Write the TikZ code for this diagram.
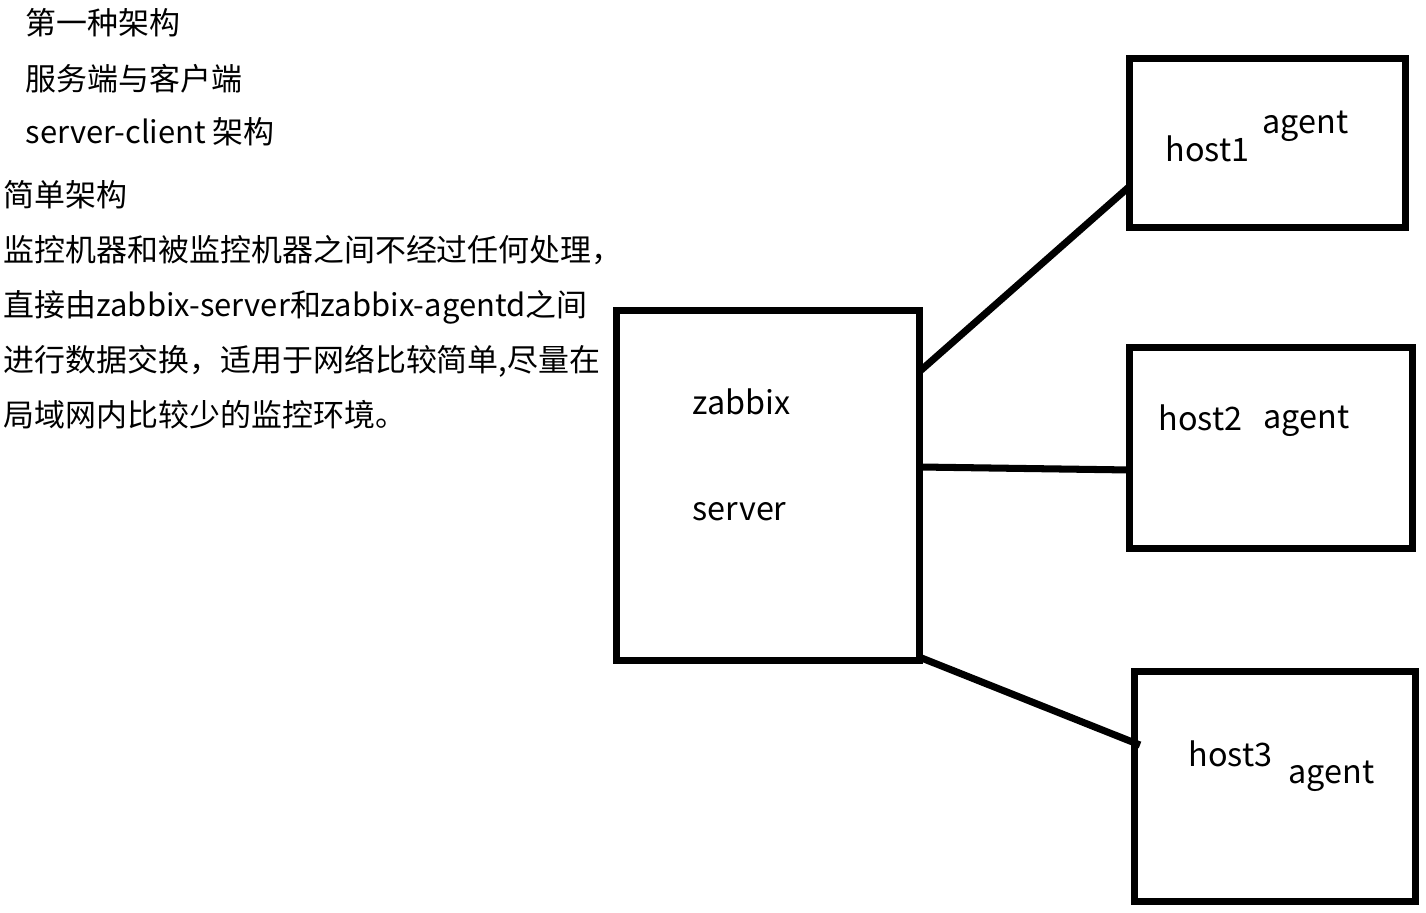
\documentclass[tikz,border=0pt]{standalone}
\usepackage{fontspec}
\setmainfont{Noto Sans CJK SC}
\begin{document}
\begin{tikzpicture}[
    x=0.01cm,
    y=-0.01cm,
    line join=miter,
    box/.style={
        draw,
        line width=2pt,
        inner sep=0pt
    },
    wire/.style={
        line width=2pt
    },
    note/.style={
        anchor=base west,
        inner sep=0pt,
        font=\fontsize{8.8}{10}\selectfont
    },
    label/.style={
        anchor=base west,
        inner sep=0pt,
        font=\fontsize{9.2}{11}\selectfont
    }
]

\useasboundingbox (0,0) rectangle (1426,913);

% -------------------------------------------------
% Пояснения слева
% -------------------------------------------------

\node[note] (t1) at (25,35)  {第一种架构};
\node[note] (t2) at (25,91)  {服务端与客户端};
\node[note] (t3) at (25,144) {server-client 架构};
\node[note] (t4) at (3,207)  {简单架构};
\node[note] (t5) at (3,262)  {监控机器和被监控机器之间不经过任何处理，};
\node[note] (t6) at (3,317)  {直接由zabbix-server和zabbix-agentd之间};
\node[note] (t7) at (3,372)  {进行数据交换，适用于网络比较简单,尽量在};
\node[note] (t8) at (3,427)  {局域网内比较少的监控环境。};

% -------------------------------------------------
% Сервер и хосты
% -------------------------------------------------

\node[box, minimum width=3.02cm, minimum height=3.49cm] (server) at (768,485.5) {};
\node[box, minimum width=2.75cm, minimum height=1.68cm] (host1) at (1267.5,143) {};
\node[box, minimum width=2.82cm, minimum height=2.00cm] (host2) at (1271,448) {};
\node[box, minimum width=2.80cm, minimum height=2.29cm] (host3) at (1275,786.5) {};

% Подписи
\node[label] (zbx) at (692,415) {zabbix};
\node[label] (srv) at (692,521) {server};

\node[label] (h1) at (1165,162) {host1};
\node[label] (a1) at (1262,134) {agent};

\node[label] (h2) at (1158,431) {host2};
\node[label] (a2) at (1263,429) {agent};

\node[label] (h3) at (1188,767) {host3};
\node[label] (a3) at (1288,784) {agent};

% -------------------------------------------------
% Точки подключения
% -------------------------------------------------

\coordinate (s1) at (919,372);
\coordinate (s2) at (919,467);
\coordinate (s3) at (919,657);

\coordinate (p1) at (1130,186);
\coordinate (p2) at (1130,470);
\coordinate (p3) at (1140,745);

% Линии связи
\draw[wire] (s1)--(p1);
\draw[wire] (s2)--(p2);
\draw[wire] (s3)--(p3);

\end{tikzpicture}
\end{document}
